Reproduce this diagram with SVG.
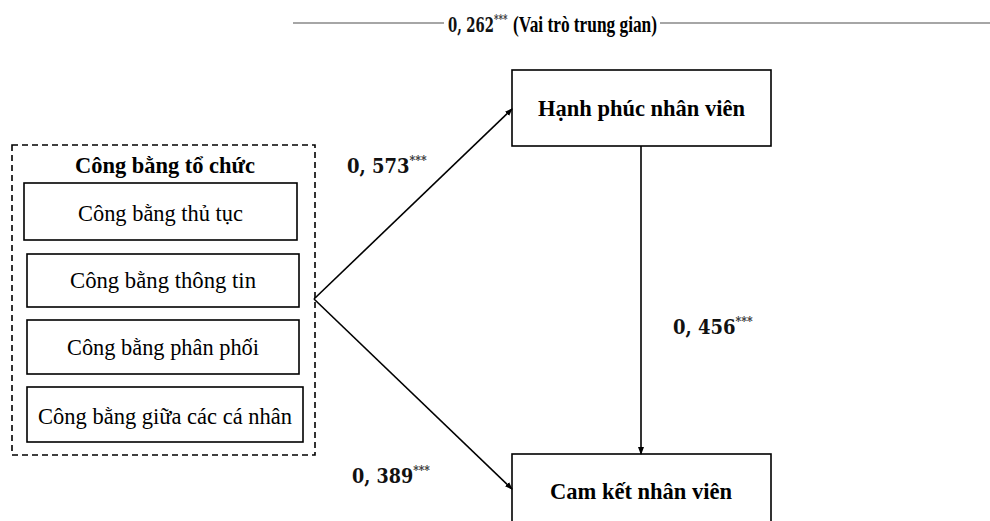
<svg xmlns="http://www.w3.org/2000/svg" width="990" height="521" viewBox="0 0 990 521">
<style>
.box{fill:#fff;stroke:#000;stroke-width:1.6}
.t{font-family:"Liberation Serif",serif;font-size:24px;fill:#000}
.b{font-weight:bold}
.n{font-family:"DejaVu Serif",serif;font-weight:bold;font-size:20px;fill:#111}
.s{font-size:12px;fill:#333}
.c{stroke:#000;stroke-width:1.6;fill:none}
</style>
<defs>
<marker id="ah" markerWidth="8" markerHeight="8" refX="7" refY="4" orient="auto" markerUnits="userSpaceOnUse">
<path d="M0,1 L8,4 L0,7 Z" fill="#000"/>
</marker>
</defs>
<rect width="990" height="521" fill="#fff"/>
<g id="mediation">
<line x1="293" y1="23" x2="444" y2="23" stroke="#888" stroke-width="1.6"/>
<line x1="660" y1="23" x2="990" y2="23" stroke="#888" stroke-width="1.6"/>
<text transform="translate(448,32) scale(0.66,1)" class="n">0, 262<tspan class="s" style="font-size:13px" dy="-8">***</tspan></text>
<text x="513" y="32" class="t b" textLength="144" lengthAdjust="spacingAndGlyphs">(Vai trò trung gian)</text>
</g>
<g id="cong-bang-to-chuc">
<rect x="12" y="145" width="303" height="310" fill="none" stroke="#000" stroke-width="1.6" stroke-dasharray="6,4"/>
<text x="75" y="173" class="t b" textLength="180" lengthAdjust="spacingAndGlyphs">Công bằng tổ chức</text>
</g>
<g id="thu-tuc">
<rect x="24" y="183" width="273" height="57" class="box"/>
<text x="78" y="221" class="t" textLength="165" lengthAdjust="spacingAndGlyphs">Công bằng thủ tục</text>
</g>
<g id="thong-tin">
<rect x="27" y="254" width="272" height="53" class="box"/>
<text x="70" y="288" class="t" textLength="186" lengthAdjust="spacingAndGlyphs">Công bằng thông tin</text>
</g>
<g id="phan-phoi">
<rect x="27" y="320" width="272" height="54" class="box"/>
<text x="67" y="355" class="t" textLength="192" lengthAdjust="spacingAndGlyphs">Công bằng phân phối</text>
</g>
<g id="giua-ca-nhan">
<rect x="27" y="387" width="276" height="55" class="box"/>
<text x="38" y="424" class="t" textLength="254" lengthAdjust="spacingAndGlyphs">Công bằng giữa các cá nhân</text>
</g>
<g id="hanh-phuc">
<rect x="512" y="70" width="259" height="76" class="box"/>
<text x="538" y="116" class="t b" textLength="207" lengthAdjust="spacingAndGlyphs">Hạnh phúc nhân viên</text>
</g>
<g id="cam-ket">
<rect x="512" y="454" width="259" height="80" class="box"/>
<text x="550" y="499" class="t b" textLength="182" lengthAdjust="spacingAndGlyphs">Cam kết nhân viên</text>
</g>
<g id="connectors">
<path d="M314,299 L512,109" class="c" marker-end="url(#ah)"/>
<path d="M314,299 L512,489" class="c" marker-end="url(#ah)"/>
<path d="M641,146 L641,454" class="c" marker-end="url(#ah)"/>
</g>
<g id="labels">
<text transform="translate(347,173) scale(0.9,1)" class="n">0, 573<tspan class="s" dy="-8">***</tspan></text>
<text transform="translate(673,334) scale(0.9,1)" class="n">0, 456<tspan class="s" dy="-8">***</tspan></text>
<text transform="translate(352,483) scale(0.88,1)" class="n">0, 389<tspan class="s" dy="-8">***</tspan></text>
</g>
</svg>
